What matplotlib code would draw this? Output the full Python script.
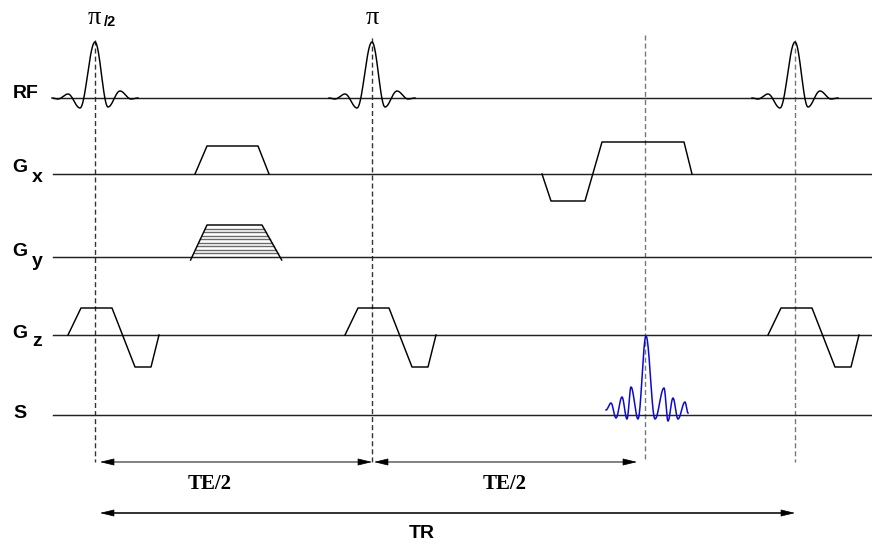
import numpy as np
import matplotlib
matplotlib.use("Agg")
import matplotlib.pyplot as plt

# ---------------- data (time axis in diagram units, amplitudes in diagram units) -------------
channel_names = ["RF", "Gx", "Gy", "Gz", "S"]
baselines = [98, 174, 257, 335, 415]          # vertical position of each channel
line_start, line_end = 53, 872

rf_centers = [95, 372, 795]
rf_lobe_t = [-43, -37, -27, -15, 0, 13, 25, 36, 43]   # extrema of the sinc pulse, relative to centre
rf_lobe_a = [0, -1, 4, -10, 56, -9, 7, -1, 0]

gx_pre_t = [195, 207, 258, 269]                # first Gx trapezoid
gx_pre_a = [0, 28, 28, 0]
gx_ro_t = [542, 551, 585, 602, 684, 692]       # dephase + readout
gx_ro_a = [0, -27, -27, 32, 32, 0]

gy_t = [192, 207, 262, 280]                    # phase-encoding trapezoid
gy_levels = [32, 28.5, 25, 21.5, 18, 14.5, 11, 7.5, 4]

gz_rel_t = [-27, -14, 17, 40, 56, 64]          # slice select + refocus, relative to RF centre
gz_rel_a = [0, 27, 27, -32, -32, 0]

echo_t = [606, 611, 616, 622, 627, 631, 638, 646, 655, 664, 668, 673, 678, 685, 688]
echo_a = [5, 12, -3, 18, -4, 28, -4, 79, -4, 27, -6, 17, -4, 13, 2]

dash_x = [95, 372, 645, 795]
dash_top = [40, 38, 35, 40]
dash_bottom = 462

te_y, tr_y = 462, 513
te1 = (100, 372)
te2 = (374, 637)
tr = (100, 795)


def smooth_through(ts, vs, n=40):
    """Connect successive extrema with half-cosine easing."""
    xx, yy = [], []
    for i in range(len(ts) - 1):
        u = np.linspace(0, 1, n, endpoint=(i == len(ts) - 2))
        xx.append(ts[i] + (ts[i + 1] - ts[i]) * u)
        yy.append(vs[i] + (vs[i + 1] - vs[i]) * (1 - np.cos(np.pi * u)) / 2)
    return np.concatenate(xx), np.concatenate(yy)


fig = plt.figure(figsize=(8.72, 5.44), dpi=100)
ax = fig.add_axes([0, 0, 1, 1])
ax.set_xlim(0, 872)
ax.set_ylim(544, 0)
ax.axis("off")

LW = 1.05
K = "black"

# baselines
for b in baselines:
    ax.plot([line_start, line_end], [b, b], color="#222222", lw=LW, zorder=2)

# RF pulses
b = baselines[0]
for c in rf_centers:
    x, y = smooth_through([c + t for t in rf_lobe_t], rf_lobe_a)
    ax.plot(x, b - y, color=K, lw=LW, zorder=3)

# Gx
b = baselines[1]
ax.plot(gx_pre_t, [b - a for a in gx_pre_a], color=K, lw=LW, zorder=3)
ax.plot(gx_ro_t, [b - a for a in gx_ro_a], color=K, lw=LW, zorder=3)

# Gy phase encoding table
b = baselines[2]
top = max(gy_levels)
l0, l1, r1, r0 = gy_t
for lev in gy_levels[1:]:
    f = lev / top
    xl = l0 + (l1 - l0) * f
    xr = r0 + (r1 - r0) * f
    ax.plot([xl, xr], [b - lev, b - lev], color="#6a6a6a", lw=1.0, zorder=3)
ext = -3  # sides extend slightly below the baseline
fl = ext / top
ax.plot([l0 + (l1 - l0) * fl, l1, r1, r0 + (r1 - r0) * fl],
        [b - ext, b - top, b - top, b - ext], color=K, lw=LW, zorder=4)

# Gz
b = baselines[3]
for c in rf_centers:
    ax.plot([c + t for t in gz_rel_t], [b - a for a in gz_rel_a], color=K, lw=LW, zorder=3)

# Signal echo
b = baselines[4]
x, y = smooth_through(echo_t, echo_a, n=20)
ax.plot(x, b - y, color="#0a0ad0", lw=1.1, zorder=3)

# dashed timing lines
for xd, yt, col in zip(dash_x, dash_top, ["#333333", "#333333", "#777777", "#777777"]):
    ax.plot([xd, xd], [yt, dash_bottom], color=col, lw=1.0,
            linestyle=(0, (3.6, 2.2)), zorder=1)


def arrow(x0, x1, y, line_col):
    ax.plot([x0 + 6, x1 - 6], [y, y], color=line_col, lw=1.3, zorder=2)
    for tip, tail in [(x0, x0 + 13), (x1, x1 - 13)]:
        ax.annotate("", xy=(tip, y), xytext=(tail, y),
                    arrowprops=dict(arrowstyle="-|>,head_length=0.9,head_width=0.22",
                                    color=K, lw=0.5, shrinkA=0, shrinkB=0), zorder=3)


arrow(*te1, te_y, "#777777")
arrow(*te2, te_y, "#777777")
arrow(*tr, tr_y, "#222222")

# labels
lab = dict(family="Liberation Sans", weight="bold", fontsize=14, color=K)
ax.text(13, 93, "RF", ha="left", va="center", **lab)
ax.text(12, 167, "G", ha="left", va="center", **lab)
ax.text(32, 177, "x", ha="left", va="center", **lab)
ax.text(12, 252, "G", ha="left", va="center", **lab)
ax.text(32, 261, "y", ha="left", va="center", **lab)
ax.text(12, 333, "G", ha="left", va="center", **lab)
ax.text(32, 342, "z", ha="left", va="center", **lab)
ax.text(13, 414, "S", ha="left", va="center", **lab)

ax.text(94, 18, "π", ha="center", va="center", family="Liberation Serif", fontsize=19)
ax.text(104, 22, "/2", ha="left", va="center", family="Liberation Sans", weight="bold", fontsize=10.5)
ax.text(372, 18, "π", ha="center", va="center", family="Liberation Serif", fontsize=19)

te_kw = dict(family="Liberation Serif", weight="bold", fontsize=15, ha="center", va="center")
ax.text(210, 484, "TE/2", **te_kw)
ax.text(505, 484, "TE/2", **te_kw)
ax.text(422, 533, "TR", ha="center", va="center", family="Liberation Sans", weight="bold", fontsize=14)

fig.savefig("out.png", dpi=100)
